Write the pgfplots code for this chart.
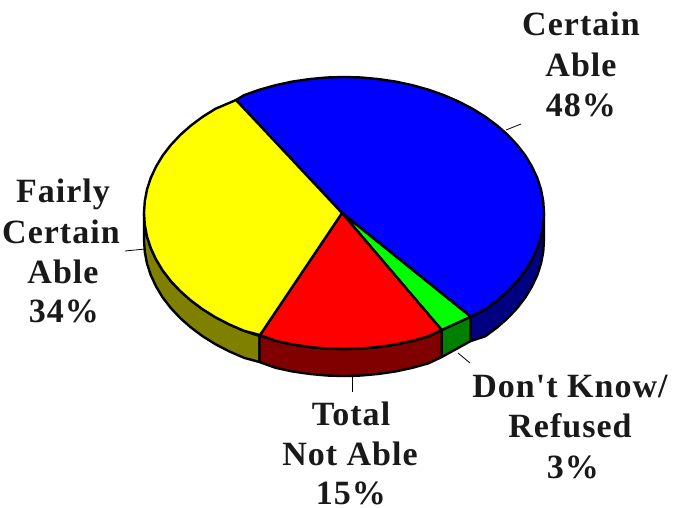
\documentclass[border=0pt]{standalone}
\usepackage{pgfplots}
\usepackage{fontspec}
\pgfplotsset{compat=1.18}
\setmainfont[LetterSpace=3,Ligatures=TeXOff]{Liberation Serif}
\definecolor{cb}{HTML}{0000FF}\definecolor{cbd}{HTML}{000080}
\definecolor{cg}{HTML}{00FF00}\definecolor{cgd}{HTML}{008000}
\definecolor{cr}{HTML}{FF0000}\definecolor{crd}{HTML}{800000}
\definecolor{cy}{HTML}{FFFF00}\definecolor{cyd}{HTML}{808000}
\tikzset{lab/.style={font=\fontsize{34}{34}\selectfont\bfseries,anchor=base,text=black!90,inner sep=0pt}}
\begin{document}
\begin{tikzpicture}
\path[use as bounding box] (0,0) rectangle (674pt,507pt);
\begin{axis}[at={(0,0)},anchor=south west,hide axis,scale only axis,width=674pt,height=507pt,xmin=0,xmax=674,ymin=0,ymax=507,y dir=reverse,clip=false,
 every axis plot/.append style={draw=black,line width=2.4pt,line join=round,mark=none}]
% sides: upper arc, then lower arc
\addplot[fill=cyd] coordinates {(259.5,336)(244,330.8)(229.3,324.4)(215.4,317.2)(202.6,309.2)(190.8,300.4)(180.2,291)(170.8,281)(162.7,270.5)(156.1,259.5)(150.8,248.2)(147,236.6)(144.8,224.9)(144,213)(144,240)(144.8,251.9)(147,263.6)(150.8,275.2)(156.1,286.5)(162.7,297.5)(170.8,308)(180.2,318)(190.8,327.4)(202.6,336.2)(215.4,344.2)(229.3,351.4)(244,357.8)(259.5,362)} --cycle;
\addplot[fill=crd] coordinates {(441.7,330)(428.5,336.3)(412.4,340.8)(395.8,344.4)(378.7,346.9)(361.4,348.5)(344,349)(326.6,348.5)(309.3,346.9)(292.2,344.4)(275.6,340.8)(259.5,335)(259.5,362)(275.6,367.8)(292.2,371.4)(309.3,373.9)(326.6,375.5)(344,376)(361.4,375.5)(378.7,373.9)(395.8,371.4)(412.4,367.8)(428.5,363.3)(441.7,357)} --cycle;
\addplot[fill=cgd] coordinates {(470.7,316.7)(441.7,330)(441.7,357)(470.7,341)} --cycle;
\addplot[fill=cbd] coordinates {(544,213)(543.2,224.9)(541,236.6)(537.2,248.2)(531.9,259.5)(525.3,270.5)(517.2,281)(507.8,291)(497.2,300.4)(485.4,309.2)(470.7,316.7)(470.7,341)(485.4,336.2)(497.2,327.4)(507.8,318)(517.2,308)(525.3,297.5)(531.9,286.5)(537.2,275.2)(541,263.6)(543.2,251.9)(544,240)} --cycle;
% top faces
\addplot[fill=cb] coordinates {(342,213)(236,100)(244,95.2)(259.5,89.7)(275.6,85.2)(292.2,81.6)(309.3,79.1)(326.6,77.5)(344,77)(361.4,77.5)(378.7,79.1)(395.8,81.6)(412.4,85.2)(428.5,89.7)(444,95.2)(458.7,101.6)(472.6,108.8)(485.4,116.8)(497.2,125.6)(507.8,135)(517.2,145)(525.3,155.5)(531.9,166.5)(537.2,177.8)(541,189.4)(543.2,201.1)(544,213)(543.2,224.9)(541,236.6)(537.2,248.2)(531.9,259.5)(525.3,270.5)(517.2,281)(507.8,291)(497.2,300.4)(485.4,309.2)(470.7,316.7)} --cycle;
\addplot[fill=cg] coordinates {(342,213)(470.7,316.7)(441.7,330)} --cycle;
\addplot[fill=cr] coordinates {(342,213)(441.7,330)(428.5,336.3)(412.4,340.8)(395.8,344.4)(378.7,346.9)(361.4,348.5)(344,349)(326.6,348.5)(309.3,346.9)(292.2,344.4)(275.6,340.8)(260,335)} --cycle;
\addplot[fill=cy] coordinates {(342,213)(260,335)(244,330.8)(229.3,324.4)(215.4,317.2)(202.6,309.2)(190.8,300.4)(180.2,291)(170.8,281)(162.7,270.5)(156.1,259.5)(150.8,248.2)(147,236.6)(144.8,224.9)(144,213)(144.8,201.1)(147,189.4)(150.8,177.8)(156.1,166.5)(162.7,155.5)(170.8,145)(180.2,135)(190.8,125.6)(202.6,116.8)(215.4,108.8)(236,100)} --cycle;
% leaders
\addplot[line width=0.8pt] coordinates {(506,130)(521,124)};
\addplot[line width=0.8pt] coordinates {(458,353)(470,363)};
\addplot[line width=0.8pt] coordinates {(352,376)(352,392)};
\addplot[line width=0.8pt] coordinates {(125,251)(145,249)};
% labels
\node[lab] at (axis cs:581,35) {Certain};
\node[lab] at (axis cs:581,76) {Able};
\node[lab] at (axis cs:581,116) {48\%};
\node[lab] at (axis cs:63,202) {Fairly};
\node[lab] at (axis cs:61,243) {Certain};
\node[lab] at (axis cs:63,283) {Able};
\node[lab] at (axis cs:64,322) {34\%};
\node[lab] at (axis cs:351,425) {Total};
\node[lab] at (axis cs:350,465) {Not Able};
\node[lab] at (axis cs:351,504) {15\%};
\node[lab] at (axis cs:570,397) {Don't Know/};
\node[lab] at (axis cs:570,437) {Refused};
\node[lab] at (axis cs:573,478) {3\%};
\end{axis}
\end{tikzpicture}
\end{document}
